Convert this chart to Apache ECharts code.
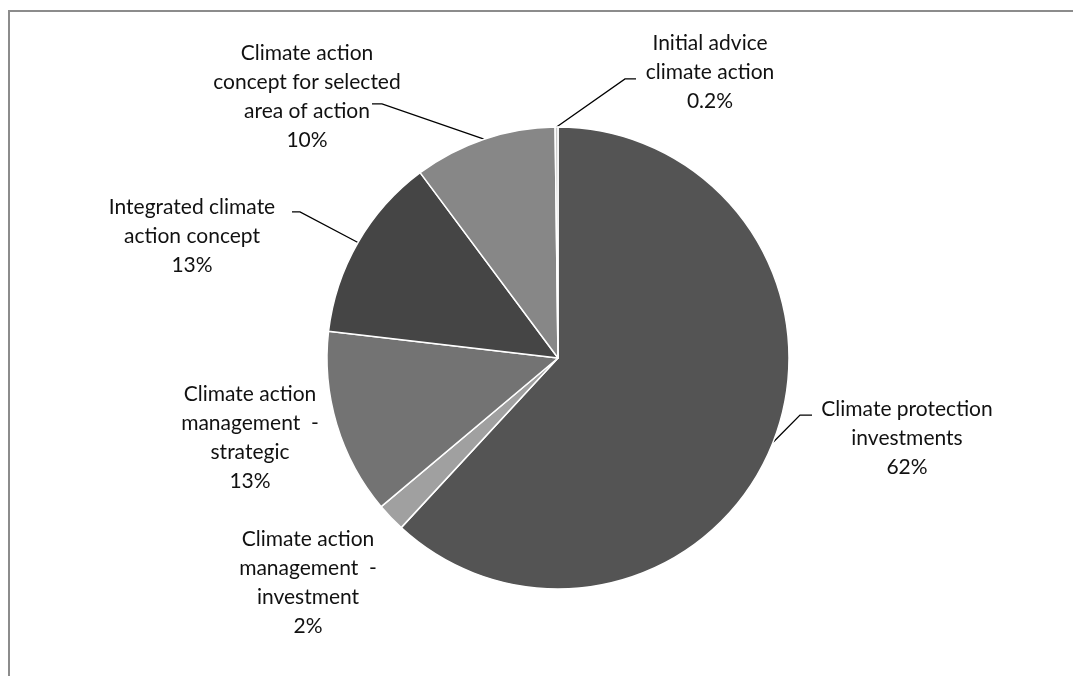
<!DOCTYPE html>
<html>
<head>
<meta charset="utf-8">
<title>Funding by measure type</title>
<script src="https://cdn.jsdelivr.net/npm/echarts@6/dist/echarts.min.js"></script>
<style>
  html, body { margin: 0; padding: 0; background: #ffffff; }
  #chart { width: 1073px; height: 676px; }
</style>
</head>
<body>
<div id="chart"></div>
<script>
// Share of funding per measure type (percent), clockwise from 12 o'clock
const categories = [
  'Climate protection\ninvestments',
  'Climate action\nmanagement  -\ninvestment',
  'Climate action\nmanagement  -\nstrategic',
  'Integrated climate\naction concept',
  'Climate action\nconcept for selected\narea of action',
  'Initial advice\nclimate action'
];
const shares = [62, 2, 13, 13, 10, 0.2];
const sliceColors = ['#545454', '#a0a0a0', '#737373', '#454545', '#878787', '#c8c8c8'];

// Label block centres; leader lines end beside the text (endDx / elbowDx from the
// block centre) at a height given in text rows from the top of the block
const LINE_H = 29;
const labelPlacement = [
  { x: 907, y: 438, line: true, row: 0.71, endDx: -95, elbowDx: -107 },
  { x: 308, y: 583, line: false },
  { x: 250, y: 438, line: false },
  { x: 192, y: 236, line: true, row: 0.67, endDx: 100, elbowDx: 108 },
  { x: 307, y: 97, line: true, row: 2.24, endDx: 65, elbowDx: 75 },
  { x: 710, y: 72, line: true, row: 1.74, endDx: -74, elbowDx: -85 }
];

const chart = echarts.init(document.getElementById('chart'), null, { renderer: 'canvas' });

const pieData = categories.map((name, i) => ({
  name: name,
  value: shares[i],
  itemStyle: { color: sliceColors[i] },
  labelLine: { show: labelPlacement[i].line }
}));

chart.setOption({
  backgroundColor: '#ffffff',
  animation: false,
  graphic: [{
    type: 'rect',
    silent: true,
    shape: { x: 9, y: 11, width: 1100, height: 700 },
    style: { fill: 'none', stroke: '#8c8c8c', lineWidth: 2 }
  }],
  series: [{
    type: 'pie',
    center: [558, 358],
    radius: [0, 231],
    startAngle: 90,
    clockwise: true,
    avoidLabelOverlap: false,
    itemStyle: { borderColor: '#ffffff', borderWidth: 1.5 },
    label: {
      show: true,
      position: 'outside',
      formatter: p => p.name + '\n' + p.value + '%',
      fontFamily: 'Lato',
      fontSize: 21,
      lineHeight: LINE_H,
      color: '#111111',
      align: 'center'
    },
    labelLine: {
      show: true,
      length: 20,
      length2: 10,
      lineStyle: { color: '#000000', width: 1.3 }
    },
    labelLayout: function (params) {
      const p = labelPlacement[params.dataIndex];
      const out = { x: p.x, y: p.y, align: 'center', verticalAlign: 'middle' };
      const pts = params.labelLinePoints;
      if (p.line && pts && pts.length) {
        const top = p.y - params.labelRect.height / 2;
        const ly = top + p.row * LINE_H;
        out.labelLinePoints = [
          pts[0].slice ? pts[0].slice() : [pts[0][0], pts[0][1]],
          [p.x + p.elbowDx, ly],
          [p.x + p.endDx, ly]
        ];
      }
      return out;
    },
    data: pieData
  }]
});
</script>
</body>
</html>
